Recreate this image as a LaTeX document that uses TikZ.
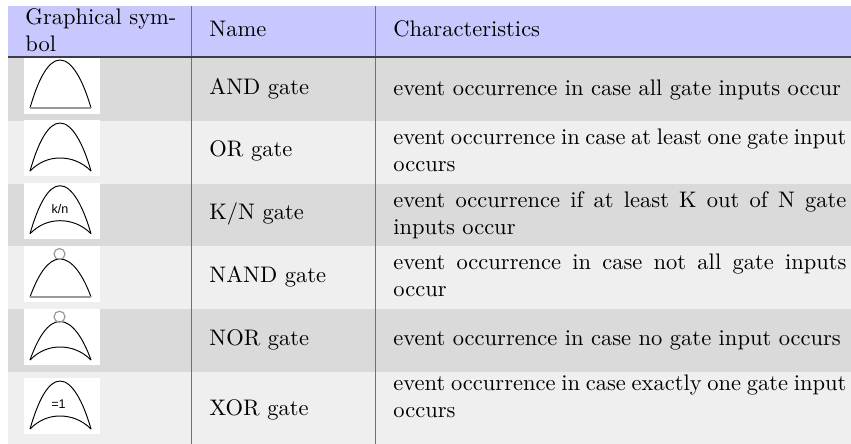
\documentclass[tikz,border=0pt]{standalone}
\usepackage{fontspec}
\newfontfamily\symfont{Liberation Sans}
\definecolor{headbg}{HTML}{C8C8FF}
\definecolor{rowa}{HTML}{DADADA}
\definecolor{rowb}{HTML}{EFEFEF}
\definecolor{rulec}{HTML}{707070}
\definecolor{ruleh}{HTML}{3C3C48}
\newlength{\pxu}\setlength{\pxu}{0.4385pt}
\tikzset{
  gateline/.style={draw=black,line width=0.96\pxu,line join=round},
  greyline/.style={draw=gray!80,line width=1.2\pxu},
  celltext/.style={inner sep=0pt,anchor=base west,font=\fontsize{9.87}{11.85}\selectfont},
  desc/.style={inner sep=0pt,anchor=north west,font=\fontsize{9.87}{11.85}\selectfont,text width=453\pxu,align=justify,execute at begin node={\hyphenpenalty=10000 }},
  headtext/.style={inner sep=0pt,anchor=north west,font=\fontsize{9.87}{11.85}\selectfont,align=left},
  sym/.style={inner sep=0pt,font=\symfont\fontsize{5.5}{6}\selectfont},
  bubble/.style={circle,draw=gray!80,line width=1.2\pxu,minimum size=11\pxu,inner sep=0pt},
  vrule/.style={draw=rulec,line width=1.1\pxu},
  hrule/.style={draw=ruleh,line width=1.4\pxu},
}
% #1 apex y, #2 height
\newcommand{\gatetop}[2]{%
  \path[gateline] (30,-#1-#2) .. controls (38,-#1-#2*0.42) and (48,-#1) .. (60,-#1)
     .. controls (72,-#1) and (83,-#1-#2*0.42) .. (91,-#1-#2);}
\newcommand{\gatearc}[2]{%
  \path[gateline] (30,-#1-#2) .. controls (39,-#1-#2+9) and (49,-#1-#2+13) .. (60,-#1-#2+13)
     .. controls (71,-#1-#2+13) and (82,-#1-#2+9) .. (91,-#1-#2);}
\newcommand{\gatebase}[2]{%
  \path[greyline] (30,-#1-#2) -- (91,-#1-#2);}
\begin{document}
\begin{tikzpicture}[x=\pxu,y=\pxu]
\useasboundingbox (0,0) rectangle (851,-444);
% backgrounds
\fill[headbg] (8,-6) rectangle (851,-57);
\fill[rowa] (8,-57) rectangle (851,-121);
\fill[rowb] (8,-121) rectangle (851,-184);
\fill[rowa] (8,-184) rectangle (851,-246);
\fill[rowb] (8,-246) rectangle (851,-309);
\fill[rowa] (8,-309) rectangle (851,-372);
\fill[rowb] (8,-372) rectangle (851,-444);
% white symbol boxes
\fill[white] (24,-58) rectangle (100,-114);
\fill[white] (24,-120) rectangle (100,-176);
\fill[white] (24,-183) rectangle (100,-239);
\fill[white] (24,-246) rectangle (100,-302);
\fill[white] (24,-309) rectangle (100,-365);
\fill[white] (24,-378) rectangle (100,-434);
% rules
\draw[vrule] (191.5,-6) -- (191.5,-444);
\draw[vrule] (375.5,-6) -- (375.5,-444);
\draw[hrule] (8,-57) -- (851,-57);
% gates
\gatetop{60}{48}\gatebase{60}{48}
\gatetop{123}{48}\gatearc{123}{48}
\gatetop{185.7}{48}\gatearc{185.7}{48}
\node[sym] (kn) at (60,-209) {k/n};
\gatetop{259}{38}\gatebase{259}{38}
\node[bubble] (c1) at (59.5,-254) {};
\gatetop{321.5}{38.5}\gatearc{321.5}{38.5}
\node[bubble] (c2) at (59.5,-316.7) {};
\gatetop{381}{48}\gatearc{381}{48}
\node[sym] (xo) at (58.5,-404) {=1};
% header
\node[headtext] (h1) at (25,-7.7) {Graphical sym-\\bol};
\node[celltext] (h2) at (209,-36.7) {Name};
\node[celltext] (h3) at (393,-36.7) {Characteristics};
% names
\node[celltext] (n1) at (209,-95) {AND gate};
\node[celltext] (n2) at (209,-156.7) {OR gate};
\node[celltext] (n3) at (209,-220) {K/N gate};
\node[celltext] (n4) at (209,-282.5) {NAND gate};
\node[celltext] (n5) at (209,-345.7) {NOR gate};
\node[celltext] (n6) at (209,-415) {XOR gate};
% characteristics (north edge = first baseline minus ascender height)
\node[desc] (d1) at (393,-79.3) {event occurrence in case all gate inputs occur};
\node[desc] (d2) at (393,-128.5) {event occurrence in case at least one gate input occurs};
\node[desc] (d3) at (393,-191) {event occurrence if at least K out of N gate inputs occur};
\node[desc] (d4) at (393,-253.6) {event occurrence in case not all gate inputs occur};
\node[desc] (d5) at (393,-330) {event occurrence in case no gate input occurs};
\node[desc] (d6) at (393,-374.3) {event occurrence in case exactly one gate input occurs};
\end{tikzpicture}
\end{document}
